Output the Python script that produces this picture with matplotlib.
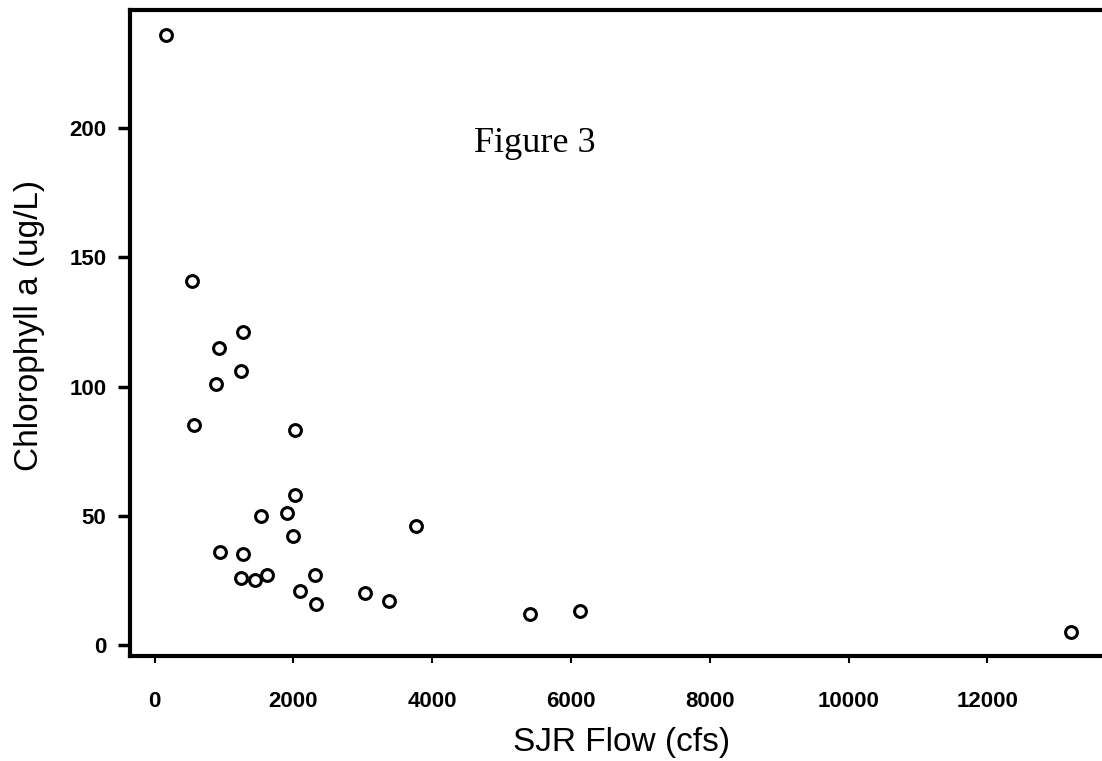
import numpy as np
import matplotlib.pyplot as plt

# values
flow = [160, 545, 1270, 935, 1240, 885, 570, 2025, 2025, 1530, 1905, 2000,
        3770, 945, 1280, 1250, 1450, 1615, 2315, 2095, 2325, 3035, 3385,
        5405, 6135, 13200]
chl = [236, 141, 121, 115, 106, 101, 85, 83, 58, 50, 51, 42,
       46, 36, 35, 26, 25, 27, 27, 21, 16, 20, 17,
       12, 13, 5]

xticks = [0, 2000, 4000, 6000, 8000, 10000, 12000]
yticks = [0, 50, 100, 150, 200]

fig = plt.figure(figsize=(11.02, 7.61), dpi=100)
ax = fig.add_axes([0.118, 0.138, 0.882, 0.849])

ax.plot(flow, chl, 'o', color='black', markerfacecolor='white',
        markersize=8.5, markeredgewidth=2.2, clip_on=False)

ax.set_xlim(-353, 13650)
ax.set_ylim(-4.3, 245.8)
ax.set_xticks(xticks)
ax.set_yticks(yticks)
ax.set_xticklabels([str(t) for t in xticks], fontsize=16, fontweight='bold',
                   family='Liberation Sans')
ax.set_yticklabels([str(t) for t in yticks], fontsize=16, fontweight='bold',
                   family='Liberation Sans')
ax.tick_params(axis='y', direction='out', length=9, width=2.5, pad=8)
ax.tick_params(axis='x', direction='out', length=5, width=1.5, pad=20)

for s in ['left', 'bottom', 'top']:
    ax.spines[s].set_linewidth(3)
ax.spines['right'].set_visible(False)

ax.text(5480, 194, 'Figure 3', fontsize=26, family='Liberation Serif',
        ha='center', va='center')

fig.text(30/1102, 1-325/761, 'Chlorophyll a (ug/L)', rotation=90,
         fontsize=24, family='Liberation Sans', ha='center', va='center')
fig.text(622/1102, 1-743/761, 'SJR Flow (cfs)', fontsize=24,
         family='Liberation Sans', ha='center', va='center')

fig.savefig('out.png', dpi=100)
